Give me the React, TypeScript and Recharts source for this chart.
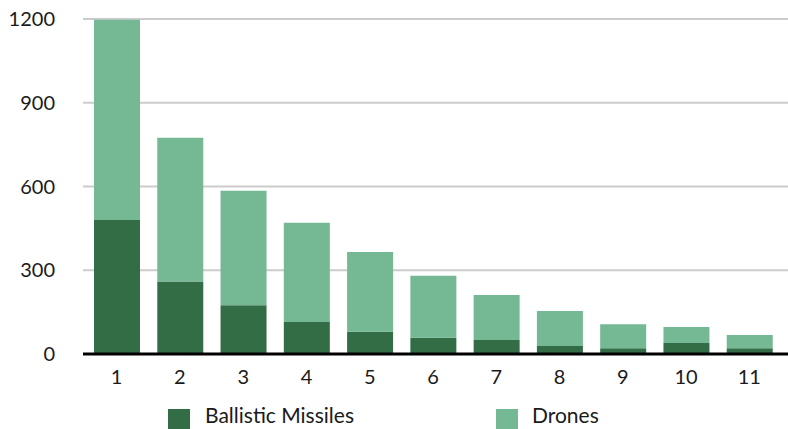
import React from 'react';
import { BarChart, Bar, XAxis, YAxis, CartesianGrid, Legend } from 'recharts';

const categories = ['1', '2', '3', '4', '5', '6', '7', '8', '9', '10', '11'];
const ballistic = [480, 260, 175, 115, 80, 58, 50, 29, 21, 39, 21];
const drones = [717, 515, 410, 355, 285, 222, 161, 125, 86, 58, 47];
const yTicks = [0, 300, 600, 900, 1200];

const DARK = '#336d45';
const LIGHT = '#74b894';

const data = categories.map((c, i) => ({ name: c, ballistic: ballistic[i], drones: drones[i] }));

const LegendBox = () => (
  <div style={{ position: 'relative', width: 788, height: 40, fontFamily: 'Lato', fontSize: 21, color: '#1a1a1a' }}>
    <div style={{ position: 'absolute', left: 168, top: 20, width: 22, height: 20, background: DARK }} />
    <span style={{ position: 'absolute', left: 205, top: 14, lineHeight: '24px' }}>Ballistic Missiles</span>
    <div style={{ position: 'absolute', left: 496, top: 20, width: 22, height: 20, background: LIGHT }} />
    <span style={{ position: 'absolute', left: 532, top: 14, lineHeight: '24px' }}>Drones</span>
  </div>
);

export default function App() {
  const tickStyle = { fontFamily: 'Lato', fontSize: 20, fill: '#1a1a1a' };
  return (
    <div style={{ position: 'fixed', left: 0, top: 0, background: '#fff' }}>
      <BarChart width={788} height={429} data={data} margin={{ top: 19, right: 0, left: 0, bottom: 0 }} barSize={46}>
        <CartesianGrid vertical={false} stroke="#cccccc" strokeWidth={2} />
        <XAxis
          dataKey="name"
          padding={{ left: 2, right: 7 }}
          tickLine={false}
          tickSize={0}
          tickMargin={16}
          axisLine={{ stroke: '#000', strokeWidth: 3 }}
          tick={tickStyle}
          height={35}
        />
        <YAxis
          width={83}
          domain={[0, 1200]}
          ticks={yTicks}
          axisLine={false}
          tickLine={false}
          tickSize={0}
          tickMargin={28}
          tick={tickStyle}
        />
        <Legend verticalAlign="bottom" height={40} content={() => <LegendBox />} wrapperStyle={{ left: 0, bottom: 0, width: 788 }} />
        <Bar dataKey="ballistic" stackId="a" fill={DARK} isAnimationActive={false} />
        <Bar dataKey="drones" stackId="a" fill={LIGHT} isAnimationActive={false} />
      </BarChart>
    </div>
  );
}
